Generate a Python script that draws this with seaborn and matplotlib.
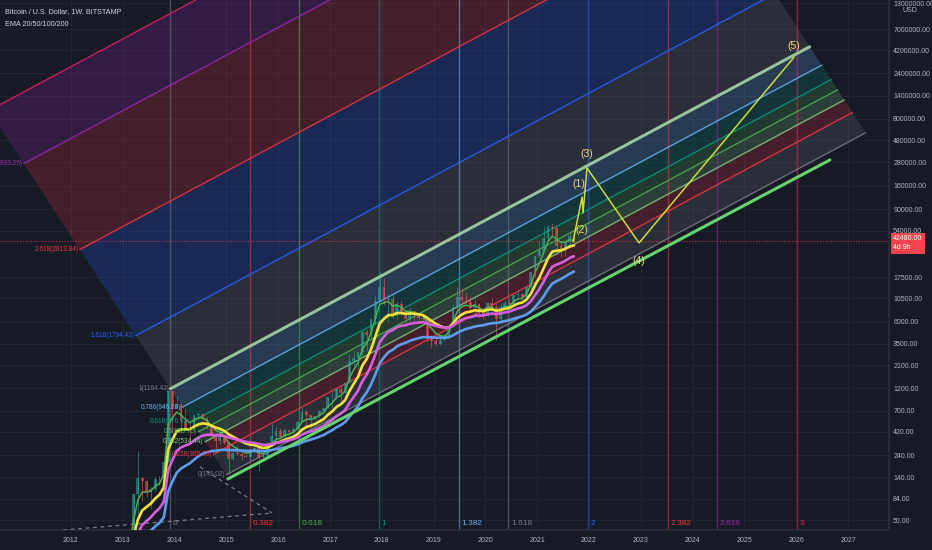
import numpy as np
import pandas as pd
import matplotlib
matplotlib.use('Agg')
import matplotlib.pyplot as plt
import matplotlib.transforms as mtrans
from matplotlib import font_manager
import seaborn as sns

# ---- price data (monthly, Bitstamp BTC/USD) ----
start_open = 13.5
closes = [20.4, 33.4, 93.0, 139.0, 129.0, 97.5, 106.0, 135.0, 133.0, 204.0, 1130.0, 754.0,
          830.0, 550.0, 450.0, 447.0, 630.0, 640.0, 585.0, 480.0, 387.0, 338.0, 378.0, 320.0,
          217.0, 254.0, 244.0, 236.0, 230.0, 263.0, 284.0, 230.0, 236.0, 314.0, 377.0, 430.0,
          368.0, 437.0, 416.0, 448.0, 531.0, 673.0, 624.0, 575.0, 609.0, 700.0, 742.0, 963.0,
          965.0, 1190.0, 1080.0, 1350.0, 2300.0, 2480.0, 2870.0, 4700.0, 4340.0, 6450.0, 9950.0, 13800.0,
          10200.0, 10300.0, 6930.0, 9240.0, 7500.0, 6390.0, 7720.0, 7030.0, 6630.0, 6370.0, 4020.0, 3740.0,
          3460.0, 3830.0, 4100.0, 5320.0, 8570.0, 10800.0, 10100.0, 9600.0, 8300.0, 9150.0, 7550.0, 7190.0,
          9350.0, 8540.0, 6410.0, 8630.0, 9450.0, 9140.0, 11330.0, 11650.0, 10780.0, 13800.0, 19700.0, 28950.0,
          33100.0, 45200.0, 58800.0, 57700.0, 37300.0, 35000.0, 41500.0, 47100.0, 42480.0]
highs = [20.7, 34.0, 96.0, 266.0, 140.0, 130.0, 111.0, 140.0, 145.0, 215.0, 1163.0, 1150.0,
         1000.0, 840.0, 720.0, 545.0, 630.0, 680.0, 650.0, 600.0, 490.0, 412.0, 460.0, 385.0,
         320.0, 265.0, 300.0, 260.0, 247.0, 267.0, 316.0, 285.0, 245.0, 330.0, 502.0, 468.0,
         460.0, 448.0, 440.0, 467.0, 550.0, 775.0, 705.0, 627.0, 614.0, 712.0, 752.0, 975.0,
         1150.0, 1200.0, 1300.0, 1355.0, 2760.0, 2980.0, 2920.0, 4740.0, 4980.0, 6470.0, 11400.0, 19660.0,
         17200.0, 11800.0, 11700.0, 9750.0, 9960.0, 7760.0, 8500.0, 7760.0, 7400.0, 6700.0, 6550.0, 4300.0,
         4070.0, 4200.0, 4150.0, 5600.0, 9100.0, 13900.0, 13200.0, 12300.0, 10940.0, 10500.0, 9500.0, 7750.0,
         9580.0, 10500.0, 9200.0, 9460.0, 10070.0, 10380.0, 11440.0, 12470.0, 12080.0, 14100.0, 19950.0, 29300.0,
         41950.0, 58350.0, 61800.0, 64900.0, 59500.0, 41300.0, 42400.0, 50500.0, 52900.0]
lows = [13.1, 19.5, 33.0, 50.0, 79.0, 88.0, 65.0, 100.0, 117.0, 104.0, 200.0, 415.0,
        740.0, 410.0, 440.0, 340.0, 420.0, 555.0, 565.0, 450.0, 370.0, 275.0, 315.0, 310.0,
        152.0, 212.0, 238.0, 215.0, 228.0, 215.0, 254.0, 162.0, 225.0, 235.0, 310.0, 347.0,
        350.0, 366.0, 393.0, 412.0, 435.0, 530.0, 470.0, 465.0, 568.0, 605.0, 680.0, 742.0,
        750.0, 917.0, 890.0, 1060.0, 1370.0, 2080.0, 1830.0, 2650.0, 2980.0, 4110.0, 5500.0, 10000.0,
        9000.0, 6000.0, 6600.0, 6450.0, 7050.0, 5780.0, 6070.0, 5880.0, 6100.0, 6200.0, 3650.0, 3150.0,
        3350.0, 3400.0, 3780.0, 4060.0, 5320.0, 7450.0, 9050.0, 9330.0, 7750.0, 7300.0, 6500.0, 6420.0,
        6850.0, 8440.0, 3850.0, 6150.0, 8100.0, 8900.0, 8950.0, 10960.0, 9880.0, 10500.0, 13200.0, 17600.0,
        28200.0, 32300.0, 43000.0, 47000.0, 30000.0, 28800.0, 29300.0, 37400.0, 39600.0]
first_month = '2013-01'
last_price = 42480.0

ema_weeks = [20, 50, 100, 200]
ema_colors = ['#4caf50', '#f2e33c', '#d65fe0', '#5f9bf0']
ema_widths = [1.1, 1.9, 1.9, 1.9]

# ---- fib channel (anchor of level 0, direction of the channel and of its edge) ----
ch_year, ch_price = 2015.0, 149.02
ch_slope = 0.2905          # decades per year
ch_step_year, ch_step_log = -1.081, 0.9015   # shift of the line start per fib unit
ch_length = 12.34          # years
levels = [0, 0.236, 0.382, 0.5, 0.618, 0.786, 1, 1.618, 2.618, 3.618, 4.236]
level_colors = ['#787b86', '#f23645', '#81c784', '#4caf50', '#089981', '#64b5f6',
                '#787b86', '#2962ff', '#f23645', '#9c27b0', '#e91e63']
level_text = ['0(149.02)', '0.236(385.60)', '0.382(534.44)', '0.5(656.72)', '0.618(776.52)',
              '0.786(946.28)', '1(1164.43)', '1.618(1794.43)', '2.618(2813.84)',
              '3.618(3833.25)', '4.236(4460.58)']

# lower support line drawn by hand
support_years = [2015.03, 2026.65]
support_prices = [135.0, 297000.0]

# ---- trend based fib time ----
tz_zero, tz_one = 2013.91, 2017.945
tz_levels = [0, 0.382, 0.618, 1, 1.382, 1.618, 2, 2.382, 2.618, 3]
tz_labels = ['0', '0.382', '0.618', '1', '1.382', '1.618', '2', '2.382', '2.618', '3']
tz_colors = ['#787b86', '#f23645', '#4caf50', '#089981', '#64b5f6', '#787b86',
             '#2962ff', '#f23645', '#9c27b0', '#e91e63']
dash_a_years, dash_a_prices = [2011.85, 2015.88], [39.3, 59.2]
dash_b_years, dash_b_prices = [2014.49, 2015.88], [180.0, 59.2]

# ---- elliott wave projection ----
wave_years = [2021.69, 2021.865, 2021.884, 2021.96, 2022.965, 2025.96]
wave_prices = [41000, 121600, 82600, 245000, 40100, 3560000]
wave_labels = ['', '(1)', '(2)', '(3)', '(4)', '(5)']
wave_offsets = [(0, 0), (-2, 9), (-1, -12), (0, 10), (0, -13), (0, 8)]

# ---- axes ----
year_ticks = list(range(2012, 2028))
price_ticks = [50, 84, 140, 240, 420, 700, 1200, 2100, 3500, 6000, 10500, 17500, 54000,
               90000, 160000, 280000, 480000, 800000, 1400000, 2400000, 4200000, 7000000, 13000000]

BG = '#161a25'
GRID = '#20242f'
TXT = '#b2b5be'

sns.set_theme(style='dark', rc={'axes.facecolor': BG, 'figure.facecolor': BG,
                                'axes.edgecolor': '#2a2e39', 'text.color': TXT})
names = {f.name for f in font_manager.fontManager.ttflist}
fam = 'Liberation Sans Narrow' if 'Liberation Sans Narrow' in names else 'Liberation Sans'
plt.rcParams['font.family'] = [fam, 'DejaVu Sans']

fig = plt.figure(figsize=(9.32, 5.5), dpi=100)
ax = fig.add_axes([0, 20 / 550, 889 / 932, 530 / 550])
ax.set_yscale('log')
ax.set_xlim(2010.63, 2027.79)
ax.set_ylim(39.3, 1.41e7)

# grid
for p in price_ticks:
    ax.axhline(p, color=GRID, lw=0.8, zorder=0.5)
for y in year_ticks:
    ax.axvline(y, color=GRID, lw=0.8, zorder=0.5)

# fib channel
def level_line(f):
    y0 = ch_year + f * ch_step_year
    l0 = np.log10(ch_price) + f * ch_step_log
    return (y0, y0 + ch_length), (l0, l0 + ch_slope * ch_length)

for i, f in enumerate(levels):
    (xa, xb), (la, lb) = level_line(f)
    if i < len(levels) - 1:
        (xc, xd), (lc, ld) = level_line(levels[i + 1])
        ax.fill([xa, xb, xd, xc], 10 ** np.array([la, lb, ld, lc]),
                color=level_colors[i], alpha=0.21, lw=0, zorder=1)
    ax.plot([xa, xb], 10 ** np.array([la, lb]), color=level_colors[i], lw=1, alpha=0.85, zorder=3)
    ax.annotate(level_text[i], (xa, 10 ** la), xytext=(-1, 0), textcoords='offset points',
                ha='right', va='center', fontsize=4.7, color=level_colors[i],
                zorder=8, annotation_clip=True)

# fib time zones
blend = mtrans.blended_transform_factory(ax.transData, ax.transAxes)
for f, lab, c in zip(tz_levels, tz_labels, tz_colors):
    xv = tz_zero + f * (tz_one - tz_zero)
    ax.axvline(xv, color=c, lw=1, alpha=0.55, zorder=2)
    ax.annotate(lab, (xv, 0.013), xycoords=blend, xytext=(2, 0), textcoords='offset points',
                ha='left', va='center', fontsize=6, color=c, zorder=8)
ax.plot(dash_a_years, dash_a_prices, color='#787b86', lw=0.9, ls=(0, (3, 3)), zorder=3)
ax.plot(dash_b_years, dash_b_prices, color='#787b86', lw=0.9, ls=(0, (3, 3)), zorder=3)

# candles
months = pd.period_range(first_month, periods=len(closes), freq='M')
dates = np.array([m.year + (m.month - 0.5) / 12 for m in months])
opens = [start_open] + closes[:-1]
up = np.array(closes) >= np.array(opens)
ccol = np.where(up, '#26a69a', '#ef5350')
ax.vlines(dates, lows, highs, colors=ccol, lw=0.7, alpha=0.6, zorder=4)
bottoms = np.minimum(opens, closes)
heights = np.abs(np.array(closes) - np.array(opens))
ax.bar(dates, heights, bottom=bottoms, width=0.055, color=ccol, alpha=0.6, lw=0, zorder=4)

# EMAs
close_s = pd.Series(closes)
for n, c, w in zip(ema_weeks, ema_colors, ema_widths):
    ema = close_s.ewm(span=n / 4.33, adjust=False).mean()
    sns.lineplot(x=dates, y=ema.values, ax=ax, color=c, lw=w, zorder=5)

# hand drawn channel edges
(xa, xb), (la, lb) = level_line(1)
ax.plot([xa, xb], 10 ** np.array([la, lb]), color='#a5d6a7', lw=2.2, alpha=0.85, zorder=6)
ax.plot(support_years, support_prices, color='#66d36e', lw=2.2, zorder=6)

# current price line
ax.axhline(last_price, color='#f23645', lw=0.8, ls=(0, (1, 1.5)), alpha=0.8, zorder=3)

# wave projection
sns.lineplot(x=wave_years, y=wave_prices, ax=ax, color='#cddc39', lw=1.1, sort=False,
             estimator=None, zorder=7)
for xw, pw, lab, off in zip(wave_years, wave_prices, wave_labels, wave_offsets):
    if lab:
        ax.annotate(lab, (xw, pw), xytext=off, textcoords='offset points', ha='center',
                    va='center', fontsize=7.5, color='#f5d76e', zorder=8)

# axes styling
ax.yaxis.tick_right()
ax.set_yticks(price_ticks)
ax.set_yticklabels(['%.2f' % p for p in price_ticks])
ax.minorticks_off()
ax.set_xticks(year_ticks)
ax.set_xticklabels([str(y) for y in year_ticks])
ax.tick_params(axis='both', length=0, labelsize=5.0, colors=TXT, pad=5)
ax.tick_params(axis='y', pad=3)
ax.set_xlabel('')
ax.set_ylabel('')
ax.grid(False)
for s in ['left', 'top']:
    ax.spines[s].set_visible(False)
ax.spines['right'].set_color('#2a2e39')
ax.spines['bottom'].set_color('#2a2e39')

blend_y = mtrans.blended_transform_factory(ax.transAxes, ax.transData)
ax.annotate('42480.00\n4d 9h', (1.0, last_price), xycoords=blend_y, xytext=(3, 4),
            textcoords='offset points', ha='left', va='top', fontsize=5.0, color='white',
            linespacing=1.5, annotation_clip=False, zorder=9,
            bbox=dict(boxstyle='square,pad=0.35', fc='#f0444f', ec='none'))

fig.text(910 / 932, 1 - 10 / 550, 'USD', fontsize=5.0, color=TXT, ha='center', va='center')
fig.text(5 / 932, 1 - 12 / 550, 'Bitcoin / U.S. Dollar, 1W, BITSTAMP', fontsize=5.2,
         color='#d1d4dc', ha='left', va='center')
fig.text(5 / 932, 1 - 25 / 550, 'EMA 20/50/100/200', fontsize=5.2, color='#d1d4dc',
         ha='left', va='center')

fig.savefig('out.png', dpi=100, facecolor=BG)
